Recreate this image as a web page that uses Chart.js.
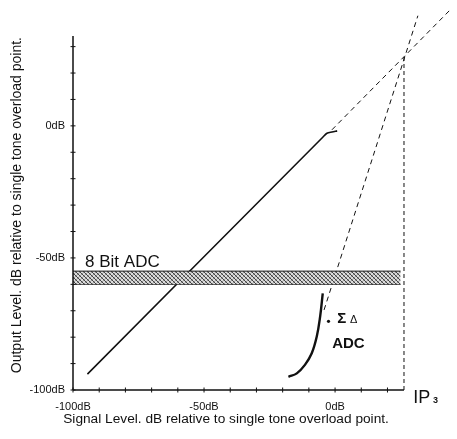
<!DOCTYPE html>
<html>
<head>
<meta charset="utf-8">
<script src="https://cdn.jsdelivr.net/npm/chart.js@4"></script>
<style>
  html, body { margin: 0; padding: 0; background: #fff; }
  #wrap { width: 457px; height: 439px; }
</style>
</head>
<body>
<div id="wrap"><canvas id="ip3Chart"></canvas></div>
<script>
/* ── Data (all values in dB) ── */
// 8 bit ADC: output vs signal level, with compression near 0dB
const ADC8_IN  = [-94.5, -4.6, -3.1, -1.2, 0.8];
const ADC8_OUT = [-94.0, -4.2, -2.8, -2.3, -1.9];
// extrapolated 1:1 line up to IP3
const ADC8_EXT_IN  = [-1.2, 44.2];
const ADC8_EXT_OUT = [-1.5, 44.2];
// sigma-delta ADC 3rd order product
const SD_IN  = [-17.8, -14.6, -11.5, -8.9, -7.0, -5.7, -4.7];
const SD_OUT = [-95.0, -93.7, -90.5, -86.1, -79.8, -72.2, -63.4];
// extrapolated slope-3 line
const IM3_IN  = [-4.2, 31.6];
const IM3_OUT = [-69.7, 41.7];
// intercept point
const IP3_IN  = 26.3;
const IP3_OUT = 26.5;
// 8 bit ADC noise floor band
const BAND_IN  = [-100, 25];
const BAND_TOP = -55;
const BAND_BOT = -60;

// axes
const X_TICKS = [-100, -90, -80, -70, -60, -50, -40, -30, -20, -10, 0, 10, 20];
const Y_TICKS = [-100, -90, -80, -70, -60, -50, -40, -30, -20, -10, 0, 10, 20, 30];
const X_LABELED = [-100, -50, 0];
const Y_LABELED = [-100, -50, 0];
const X_AXIS_END = 26.3;
const Y_AXIS_END = 34;

const X_TITLE = 'Signal Level. dB relative to single tone overload point.';
const Y_TITLE = 'Output Level. dB relative to single tone overload point.';

const FONT = "'Liberation Sans', Arial, Helvetica, sans-serif";
const INK = '#111';

const pts = (xs, ys) => xs.map((v, i) => ({ x: v, y: ys[i] }));

/* ── Hatch pattern for the noise band ── */
function hatch() {
  const c = document.createElement('canvas');
  c.width = 4; c.height = 4;
  const g = c.getContext('2d');
  g.fillStyle = '#dcdcdc';
  g.fillRect(0, 0, 4, 4);
  g.strokeStyle = '#444';
  g.lineWidth = 1;
  g.beginPath();
  g.moveTo(0, 0); g.lineTo(4, 4);
  g.moveTo(-2, 2); g.lineTo(2, 6);
  g.moveTo(2, -2); g.lineTo(6, 2);
  g.stroke();
  g.strokeStyle = '#999';
  g.beginPath();
  g.moveTo(0, 4); g.lineTo(4, 0);
  g.stroke();
  return g.createPattern(c, 'repeat');
}

/* ── Axis lines, tick marks, titles and annotations ── */
const axesAndNotes = {
  id: 'axesAndNotes',
  afterDatasetsDraw(chart) {
    const { ctx, scales: { x, y } } = chart;
    const px = v => x.getPixelForValue(v);
    const py = v => y.getPixelForValue(v);
    ctx.save();
    ctx.strokeStyle = INK;
    ctx.lineWidth = 1.5;
    ctx.beginPath();
    ctx.moveTo(px(-100), py(-100)); ctx.lineTo(px(X_AXIS_END), py(-100));
    ctx.moveTo(px(-100), py(-100)); ctx.lineTo(px(-100), py(Y_AXIS_END));
    ctx.stroke();
    ctx.lineWidth = 1;
    ctx.beginPath();
    X_TICKS.forEach(t => { ctx.moveTo(px(t), py(-100) - 2.5); ctx.lineTo(px(t), py(-100) + 2.5); });
    Y_TICKS.forEach(t => { ctx.moveTo(px(-100) - 2.5, py(t)); ctx.lineTo(px(-100) + 2.5, py(t)); });
    ctx.stroke();

    ctx.fillStyle = INK;
    ctx.textBaseline = 'alphabetic';
    ctx.textAlign = 'left';
    ctx.font = '17px ' + FONT;
    ctx.fillText('8 Bit ADC', px(-95.4), py(-53.4));

    ctx.beginPath();
    ctx.arc(px(-2.5), py(-74), 1.6, 0, Math.PI * 2);
    ctx.fill();
    ctx.font = 'bold 15px ' + FONT;
    ctx.fillText('Σ', px(0.8), py(-74.6));
    ctx.font = '11px ' + FONT;
    ctx.fillText('Δ', px(5.7), py(-74.6));
    ctx.font = 'bold 15px ' + FONT;
    ctx.fillText('ADC', px(-1.1), py(-84.1));

    ctx.font = '18px ' + FONT;
    ctx.fillText('IP', px(29.8), py(-104.9));
    ctx.font = 'bold 9px ' + FONT;
    ctx.fillText('3', px(37.4), py(-104.9));

    // axis titles
    ctx.textAlign = 'center';
    ctx.font = '13.7px ' + FONT;
    ctx.fillText(X_TITLE, px(-41.6), py(-112.6));
    ctx.translate(y.left + 21, py(-30));
    ctx.rotate(-Math.PI / 2);
    ctx.font = '14px ' + FONT;
    ctx.fillText(Y_TITLE, 0, 0);
    ctx.restore();
  }
};

const base = { showLine: true, pointRadius: 0, borderColor: INK, fill: false };

const noPad = s => { s.paddingLeft = 0; s.paddingRight = 0; s.paddingTop = 0; s.paddingBottom = 0; };

new Chart(document.getElementById('ip3Chart'), {
  type: 'scatter',
  data: {
    datasets: [
      { ...base, data: pts(BAND_IN, [BAND_TOP, BAND_TOP]), borderWidth: 1, fill: '+1', backgroundColor: hatch() },
      { ...base, data: pts(BAND_IN, [BAND_BOT, BAND_BOT]), borderWidth: 1 },
      { ...base, data: pts(ADC8_IN, ADC8_OUT), borderWidth: 1.6, tension: 0.3 },
      { ...base, data: pts(ADC8_EXT_IN, ADC8_EXT_OUT), borderWidth: 1, borderDash: [5, 4] },
      { ...base, data: pts(IM3_IN, IM3_OUT), borderWidth: 1, borderDash: [5, 4] },
      { ...base, data: pts([IP3_IN, IP3_IN], [-100, IP3_OUT]), borderWidth: 1, borderDash: [4, 3] },
      { ...base, data: pts(SD_IN, SD_OUT), borderWidth: 2.4, tension: 0.4 },
    ]
  },
  options: {
    responsive: true,
    maintainAspectRatio: false,
    animation: false,
    layout: { padding: { top: 7, right: 4, left: 0, bottom: 0 } },
    plugins: { legend: { display: false }, tooltip: { enabled: false } },
    scales: {
      x: {
        type: 'linear', min: -100, max: 45,
        grid: { display: false, drawTicks: false },
        border: { display: false },
        ticks: {
          stepSize: 10, autoSkip: false, maxRotation: 0, padding: 10,
          color: INK, font: { family: FONT, size: 11 },
          callback: v => X_LABELED.includes(v) ? v + 'dB' : ''
        },
        afterFit: s => { s.height = 49; noPad(s); }
      },
      y: {
        type: 'linear', min: -100, max: 45,
        grid: { display: false, drawTicks: false },
        border: { display: false },
        ticks: {
          stepSize: 10, autoSkip: false, padding: 8,
          color: INK, font: { family: FONT, size: 11 },
          callback: v => Y_LABELED.includes(v) ? v + 'dB' : ''
        },
        afterFit: s => { s.width = 73; noPad(s); }
      }
    }
  },
  plugins: [axesAndNotes]
});
</script>
</body>
</html>
